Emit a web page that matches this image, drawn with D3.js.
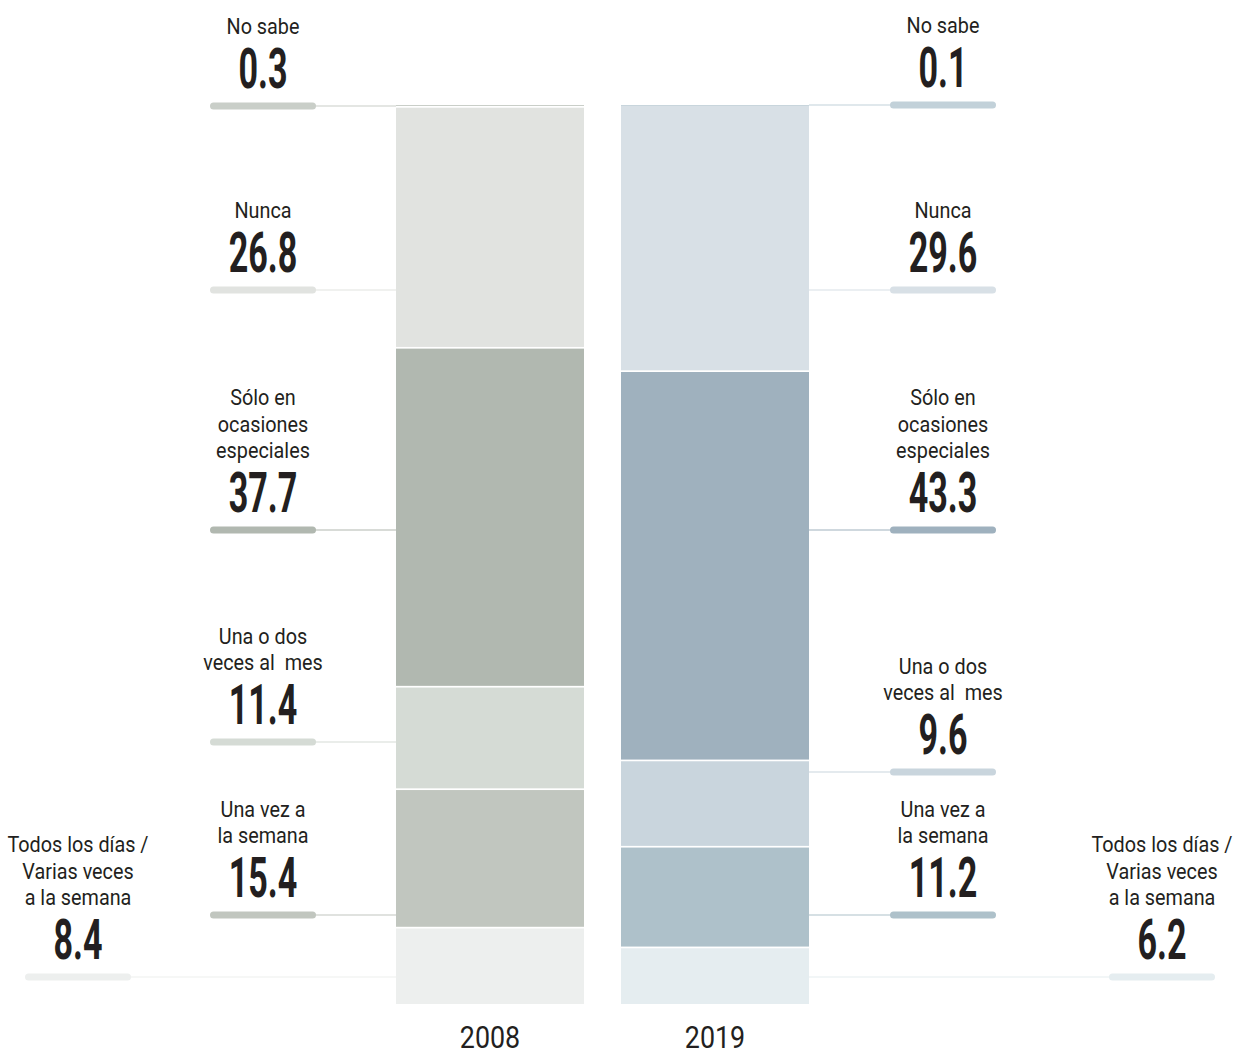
<!DOCTYPE html>
<html>
<head>
<meta charset="utf-8">
<script src="https://cdn.jsdelivr.net/npm/d3@7"></script>
<style>
  body { margin: 0; background: #fff; }
  text { font-family: Roboto, "Noto Sans", sans-serif; fill: #231f20; white-space: pre; }
</style>
</head>
<body>
<div id="chart"></div>
<script>
// data: segments listed bottom to top
const categories = [
  ["Todos los días /", "Varias veces", "a la semana"],
  ["Una vez a", "la semana"],
  ["Una o dos", "veces al  mes"],
  ["Sólo en", "ocasiones", "especiales"],
  ["Nunca"],
  ["No sabe"]
];
const years = ["2008", "2019"];
const values2008 = [8.4, 15.4, 11.4, 37.7, 26.8, 0.3];
const values2019 = [6.2, 11.2, 9.6, 43.3, 29.6, 0.1];

// colours per year, same order as categories
const colors2008 = ["#edefee", "#c1c6bf", "#d5dbd5", "#b1b8b0", "#e1e3e0", "#c9cec8"];
const colors2019 = ["#e5edf0", "#aec1ca", "#c9d5dd", "#9fb1be", "#d8e0e6", "#c2d1d9"];

// where each label's leader line sits (layout)
const leaderY2008 = [977, 915, 742, 530, 290, 106];
const leaderY2019 = [977, 915, 772, 530, 290, 105];

const W = 1238, H = 1055;
const svg = d3.select("#chart").append("svg")
  .attr("width", W).attr("height", H);

const x = d3.scaleBand().domain(years).range([396, 809]).paddingInner(37 / 225);
const y = d3.scaleLinear().domain([0, 100]).range([1004, 105]);

function stack(values, colors) {
  let acc = 0;
  return values.map((v, i) => {
    const d = {i: i, v: v, y0: acc, y1: acc + v, color: colors[i]};
    acc += v;
    return d;
  });
}

const series = [
  {year: "2008", data: stack(values2008, colors2008), leader: leaderY2008, side: "left"},
  {year: "2019", data: stack(values2019, colors2019), leader: leaderY2019, side: "right"}
];

const gap = 1.7;

series.forEach(s => {
  const g = svg.append("g");
  g.selectAll("rect")
    .data(s.data)
    .join("rect")
      .attr("x", x(s.year))
      .attr("width", x.bandwidth())
      .attr("y", d => y(d.y1))
      .attr("height", d => Math.max(y(d.y0) - y(d.y1) - (d.i === 0 ? 0 : gap), 0.9))
      .attr("fill", d => d.color);

  // labels
  s.data.forEach(d => {
    const ly = s.leader[d.i];
    const outer = d.i === 0; // "Todos los días" sits farther out
    let cx;
    if (s.side === "left") cx = outer ? 78 : 263;
    else cx = outer ? 1162 : 943;
    const pillL = cx - 49.5, pillR = cx + 49.5;

    // thin leader
    const barEdge = s.side === "left" ? x(s.year) : x(s.year) + x.bandwidth();
    g.append("line")
      .attr("x1", s.side === "left" ? pillR : barEdge)
      .attr("x2", s.side === "left" ? barEdge : pillL)
      .attr("y1", ly).attr("y2", ly)
      .attr("stroke", d.color).attr("stroke-width", 1.2);
    // pill
    g.append("line")
      .attr("x1", pillL).attr("x2", pillR)
      .attr("y1", ly).attr("y2", ly)
      .attr("stroke", d.color).attr("stroke-width", 7)
      .attr("stroke-linecap", "round");

    // value
    g.append("text")
      .attr("transform", `translate(${cx},${ly - 18}) scale(0.62,1)`)
      .attr("text-anchor", "middle")
      .style("font-size", "55px").style("font-weight", "700")
      .text(d.v.toFixed(1));

    // category lines
    const lines = categories[d.i];
    lines.forEach((t, k) => {
      const by = ly - 72 - (lines.length - 1 - k) * 26.5;
      g.append("text")
        .attr("transform", `translate(${cx},${by}) scale(0.88,1)`)
        .attr("text-anchor", "middle")
        .style("font-size", "22.5px")
        .text(t);
    });
  });

  // year label
  svg.append("text")
    .attr("transform", `translate(${x(s.year) + x.bandwidth() / 2},${1048}) scale(0.84,1)`)
    .attr("text-anchor", "middle")
    .style("font-size", "32px")
    .text(s.year);
});
</script>
</body>
</html>
